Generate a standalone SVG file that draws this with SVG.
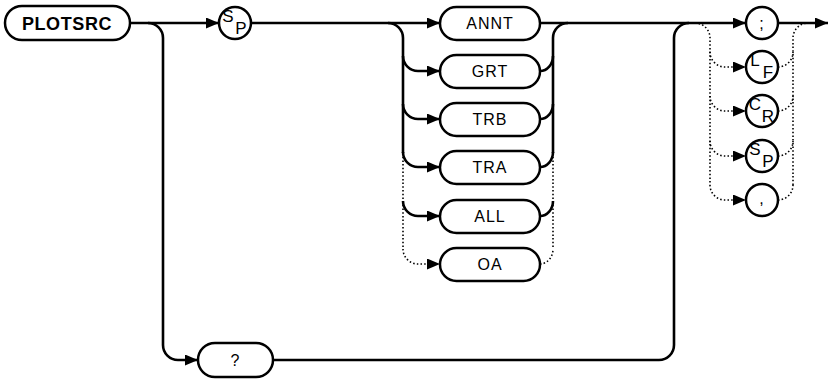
<svg xmlns="http://www.w3.org/2000/svg" width="829" height="381" viewBox="0 0 829 381">
<style>
.bx{fill:#fff;stroke:#000;stroke-width:2.5}
.ln{fill:none;stroke:#000;stroke-width:2.6}
.dt{fill:none;stroke:#000;stroke-width:1.6;stroke-dasharray:1.5 2.2}
.t{font-family:"Liberation Sans",Arial,sans-serif;font-size:16px;letter-spacing:1px;text-anchor:middle;fill:#000}
.tb{font-family:"Liberation Sans",Arial,sans-serif;font-size:18px;font-weight:bold;letter-spacing:0.6px;text-anchor:middle;fill:#000}
.s{font-family:"Liberation Sans",Arial,sans-serif;font-size:17px;text-anchor:middle;fill:#000}
</style>
<defs>
<marker id="ah" markerUnits="userSpaceOnUse" markerWidth="13" markerHeight="11" refX="13" refY="5.5" orient="auto">
<path d="M0,0 L13,5.5 L0,11 z" fill="#000"/>
</marker>
</defs>
<g id="connectors">
<path class="ln" d="M130,23 H219" marker-end="url(#ah)"/>
<path class="ln" d="M251,23 H440" marker-end="url(#ah)"/>
<path class="ln" d="M388,23 A15,15 0 0 1 403,38 V153"/>
<path class="ln" d="M403,56 A15,15 0 0 0 418,71 H440" marker-end="url(#ah)"/>
<path class="ln" d="M403,104 A15,15 0 0 0 418,119 H440" marker-end="url(#ah)"/>
<path class="ln" d="M403,152 A15,15 0 0 0 418,167 H440" marker-end="url(#ah)"/>
<path class="ln" d="M403,201 A15,15 0 0 0 418,216 H440" marker-end="url(#ah)"/>
<path class="dt" d="M403,153 V249"/>
<path class="dt" d="M403,249 A15,15 0 0 0 418,264 H440" marker-end="url(#ah)"/>
<path class="ln" d="M540,23 H746" marker-end="url(#ah)"/>
<path class="ln" d="M553,153 V38 A15,15 0 0 1 568,23"/>
<path class="ln" d="M540,71 A13,15 0 0 0 553,56"/>
<path class="ln" d="M540,119 A13,15 0 0 0 553,104"/>
<path class="ln" d="M540,167 A13,15 0 0 0 553,152"/>
<path class="ln" d="M540,216 A13,15 0 0 0 553,201"/>
<path class="dt" d="M553,153 V249"/>
<path class="dt" d="M540,264 A13,15 0 0 0 553,249"/>
<path class="ln" d="M148,23 A15,15 0 0 1 163,38 V345 A15,15 0 0 0 178,360 H198" marker-end="url(#ah)"/>
<path class="ln" d="M273,360 H659 A15,15 0 0 0 674,345 V38 A15,15 0 0 1 689,23"/>
<path class="ln" d="M778,23 H828" marker-end="url(#ah)"/>
<path class="dt" d="M695,23 A15,15 0 0 1 710,38 V185"/>
<path class="dt" d="M710,52 A15,15 0 0 0 725,67 H746" marker-end="url(#ah)"/>
<path class="dt" d="M710,96 A15,15 0 0 0 725,111 H746" marker-end="url(#ah)"/>
<path class="dt" d="M710,141 A15,15 0 0 0 725,156 H746" marker-end="url(#ah)"/>
<path class="dt" d="M710,185 A15,15 0 0 0 725,200 H746" marker-end="url(#ah)"/>
<path class="dt" d="M793,185 V38 A15,15 0 0 1 808,23"/>
<path class="dt" d="M778,67 A15,15 0 0 0 793,52"/>
<path class="dt" d="M778,111 A15,15 0 0 0 793,96"/>
<path class="dt" d="M778,156 A15,15 0 0 0 793,141"/>
<path class="dt" d="M778,200 A15,15 0 0 0 793,185"/>
</g>
<g id="PLOTSRC"><rect class="bx" x="5" y="6" width="125" height="34" rx="17"/><text class="tb" x="67" y="29.5">PLOTSRC</text></g>
<g id="SP1"><circle class="bx" cx="235" cy="23" r="16"/><text class="s" x="228" y="22">S</text><text class="s" x="241" y="34">P</text></g>
<g id="ANNT"><rect class="bx" x="440" y="7" width="100" height="33" rx="16.5"/><text class="t" x="490" y="29">ANNT</text></g>
<g id="GRT"><rect class="bx" x="440" y="55" width="100" height="33" rx="16.5"/><text class="t" x="490" y="77">GRT</text></g>
<g id="TRB"><rect class="bx" x="440" y="103" width="100" height="33" rx="16.5"/><text class="t" x="490" y="125">TRB</text></g>
<g id="TRA"><rect class="bx" x="440" y="151" width="100" height="33" rx="16.5"/><text class="t" x="490" y="173">TRA</text></g>
<g id="ALL"><rect class="bx" x="440" y="200" width="100" height="33" rx="16.5"/><text class="t" x="490" y="222">ALL</text></g>
<g id="OA"><rect class="bx" x="440" y="248" width="100" height="33" rx="16.5"/><text class="t" x="490" y="270">OA</text></g>
<g id="QUERY"><rect class="bx" x="198" y="343" width="75" height="34" rx="17"/><text class="t" x="235.5" y="366">?</text></g>
<g id="SEMI"><circle class="bx" cx="762" cy="23" r="16"/><text class="t" x="762" y="29">;</text></g>
<g id="LF"><circle class="bx" cx="762" cy="67" r="16"/><text class="s" x="755" y="66">L</text><text class="s" x="768" y="78">F</text></g>
<g id="CR"><circle class="bx" cx="762" cy="111" r="16"/><text class="s" x="755" y="110">C</text><text class="s" x="768" y="122">R</text></g>
<g id="SP2"><circle class="bx" cx="762" cy="156" r="16"/><text class="s" x="755" y="155">S</text><text class="s" x="768" y="167">P</text></g>
<g id="COMMA"><circle class="bx" cx="762" cy="200" r="16"/><text class="t" x="762" y="204">,</text></g>
</svg>
